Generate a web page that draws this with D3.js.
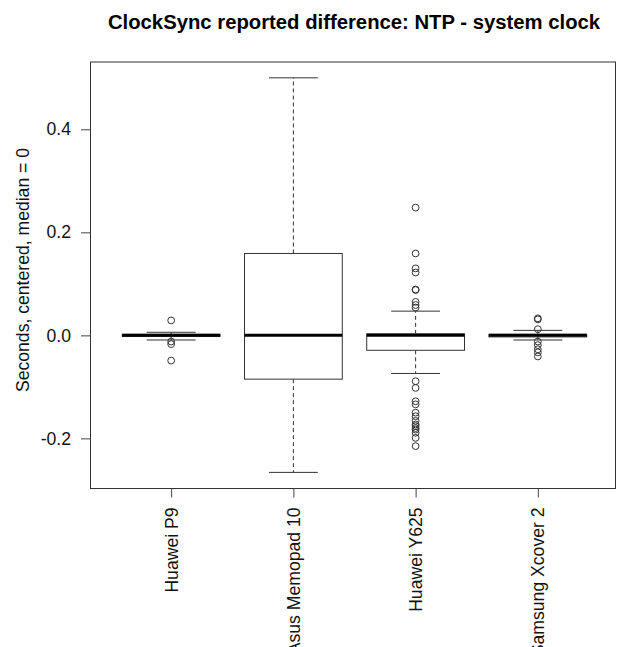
<!DOCTYPE html>
<html>
<head>
<meta charset="utf-8">
<script src="https://cdn.jsdelivr.net/npm/d3@7"></script>
<style>
  body { margin: 0; background: #fff; }
  svg { display: block; font-family: "Liberation Sans", Arial, sans-serif; }
</style>
</head>
<body>
<svg id="chart"></svg>
<script>
// devices and their box statistics (seconds, centered so median = 0)
const categories = ["Huawei P9", "Asus Memopad 10", "Huawei Y625", "Samsung Xcover 2"];
const whiskerLow = [-0.009, -0.266, -0.074, -0.009];
const q1 = [-0.002, -0.085, -0.029, -0.003];
const medians = [0, 0, 0, 0];
const q3 = [0.002, 0.159, 0.003, 0.002];
const whiskerHigh = [0.006, 0.500, 0.047, 0.0097];

const outliersP9 = [0.029, -0.012, -0.017, -0.049];
const outliersAsus = [];
const outliersY625 = [0.248, 0.159, 0.130, 0.122, 0.089, 0.088, 0.065, 0.059, 0.054,
  -0.089, -0.102, -0.128, -0.134, -0.150, -0.157, -0.166, -0.173, -0.176, -0.180,
  -0.183, -0.189, -0.199, -0.215];
const outliersXcover = [0.033, 0.031, 0.012, -0.012, -0.019, -0.027, -0.033, -0.041];
const outliers = [outliersP9, outliersAsus, outliersY625, outliersXcover];

const yTicks = [-0.2, 0.0, 0.2, 0.4];

const width = 617;
const height = 647;
const plot = { left: 90.5, right: 618.5, top: 62, bottom: 488.5 };
const fontSize = 17.6;

const svg = d3.select("#chart").attr("width", width).attr("height", height);

// scales: groups sit at 1..4, R style 4% padding around 0.5..4.5
const x = d3.scaleLinear().domain([0.34, 4.66]).range([plot.left, plot.right]);
const y = d3.scaleLinear().domain([-0.2973, 0.5307]).range([plot.bottom, plot.top]);

const boxes = categories.map((c, i) => ({
  name: c, pos: i + 1,
  lo: whiskerLow[i], q1: q1[i], med: medians[i], q3: q3[i], hi: whiskerHigh[i],
  out: outliers[i]
}));

// title
svg.append("text")
  .attr("x", 354)
  .attr("y", 29)
  .attr("text-anchor", "middle")
  .attr("font-weight", "bold")
  .attr("font-size", 20.3)
  .attr("fill", "#000")
  .text("ClockSync reported difference: NTP - system clock");

// y axis
const yAxis = svg.append("g")
  .attr("transform", `translate(${plot.left},0)`)
  .call(d3.axisLeft(y).tickValues(yTicks).tickSize(9.5).tickPadding(10)
    .tickFormat(d => d.toFixed(1)));
yAxis.select(".domain").remove();
yAxis.selectAll(".tick line").attr("stroke", "#444");
yAxis.selectAll(".tick text").attr("font-size", fontSize).attr("fill", "#111")
  .attr("font-family", "Liberation Sans, Arial, sans-serif");

svg.append("text")
  .attr("transform", "translate(23,270) rotate(-90)")
  .attr("text-anchor", "middle")
  .attr("dy", "0.35em")
  .attr("font-size", fontSize)
  .attr("fill", "#111")
  .text("Seconds, centered, median = 0");

// x axis
const xAxis = svg.append("g")
  .attr("transform", `translate(0,${plot.bottom})`)
  .call(d3.axisBottom(x).tickValues(boxes.map(b => b.pos)).tickSize(9)
    .tickFormat(d => categories[d - 1]));
xAxis.select(".domain").remove();
xAxis.selectAll(".tick line").attr("stroke", "#444");
xAxis.selectAll(".tick text")
  .attr("font-size", fontSize)
  .attr("fill", "#111")
  .attr("font-family", "Liberation Sans, Arial, sans-serif")
  .attr("text-anchor", "end")
  .attr("dy", null)
  .attr("y", 0)
  .attr("dominant-baseline", "central")
  .attr("transform", "translate(0,19) rotate(-90)");

const g = svg.append("g");
const half = x(1.4) - x(1);
const stapleHalf = x(1.2) - x(1);

const box = g.selectAll("g.box").data(boxes).join("g").attr("class", "box");

// dashed whiskers
box.append("line")
  .attr("x1", d => x(d.pos)).attr("x2", d => x(d.pos))
  .attr("y1", d => y(d.q3)).attr("y2", d => y(d.hi))
  .attr("stroke", "#333").attr("stroke-dasharray", "4,3");
box.append("line")
  .attr("x1", d => x(d.pos)).attr("x2", d => x(d.pos))
  .attr("y1", d => y(d.q1)).attr("y2", d => y(d.lo))
  .attr("stroke", "#333").attr("stroke-dasharray", "4,3");

// staples
["hi", "lo"].forEach(k => {
  box.append("line")
    .attr("x1", d => x(d.pos) - stapleHalf).attr("x2", d => x(d.pos) + stapleHalf)
    .attr("y1", d => y(d[k])).attr("y2", d => y(d[k]))
    .attr("stroke", "#333");
});

// box
box.append("rect")
  .attr("x", d => x(d.pos) - half)
  .attr("width", half * 2)
  .attr("y", d => y(d.q3))
  .attr("height", d => Math.max(y(d.q1) - y(d.q3), 0.5))
  .attr("fill", "#fff")
  .attr("stroke", "#333");

// median
box.append("line")
  .attr("x1", d => x(d.pos) - half).attr("x2", d => x(d.pos) + half)
  .attr("y1", d => y(d.med)).attr("y2", d => y(d.med))
  .attr("stroke", "#000").attr("stroke-width", 3);

// outliers
box.selectAll("circle").data(d => d.out.map(v => ({ pos: d.pos, v }))).join("circle")
  .attr("cx", d => x(d.pos)).attr("cy", d => y(d.v)).attr("r", 3.4)
  .attr("fill", "none").attr("stroke", "#333").attr("stroke-width", 1);

// plot frame
svg.append("rect")
  .attr("x", plot.left).attr("y", plot.top)
  .attr("width", plot.right - plot.left - 3).attr("height", plot.bottom - plot.top)
  .attr("fill", "none").attr("stroke", "#333");
</script>
</body>
</html>
